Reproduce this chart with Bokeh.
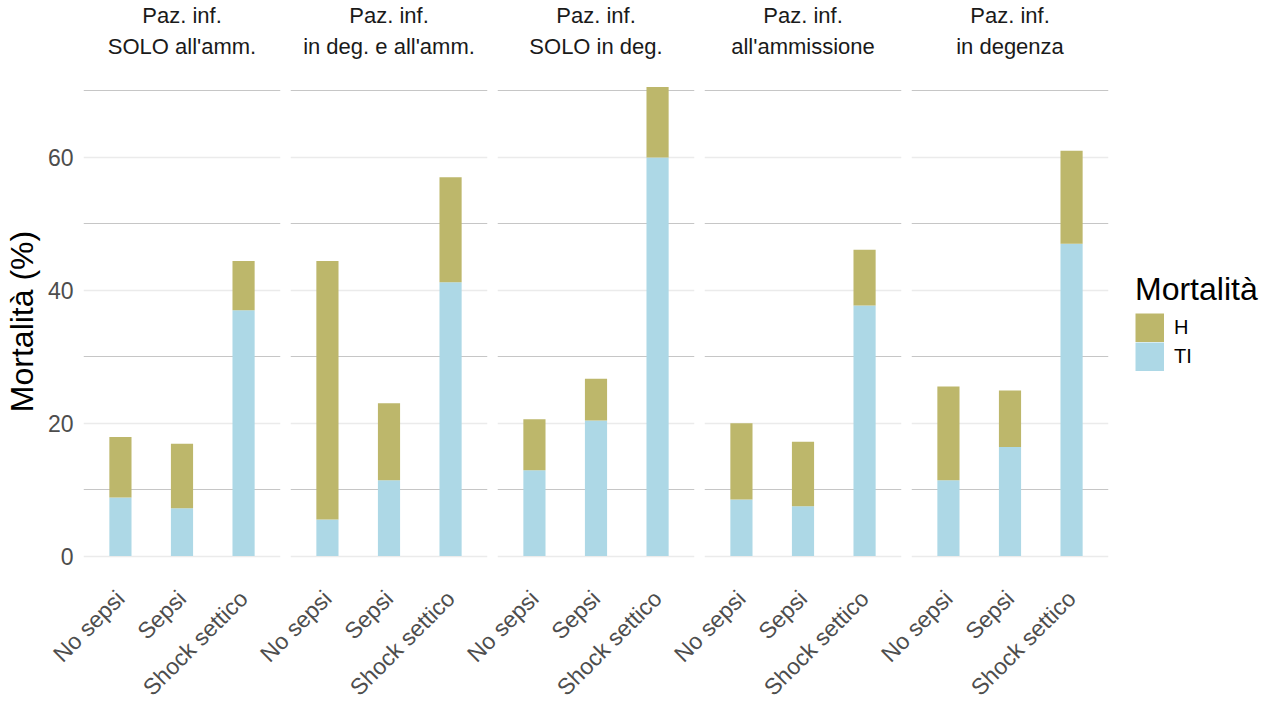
import math
from bokeh.plotting import figure
from bokeh.models import (FactorRange, Range1d, FixedTicker, Title, Legend, LegendItem,
                          ColumnDataSource)
from bokeh.layouts import row
from bokeh.embed import file_html
from bokeh.resources import INLINE

# ---- data ----
categories = ["No sepsi", "Sepsi", "Shock settico"]
facet_line1 = ["Paz. inf.", "Paz. inf.", "Paz. inf.", "Paz. inf.", "Paz. inf."]
facet_line2 = ["SOLO all'amm.", "in deg. e all'amm.", "SOLO in deg.",
               "all'ammissione", "in degenza"]
series_names = ["H", "TI"]
y_ticks = [0, 20, 40, 60]
y_minor_ticks = [10, 30, 50, 70]

ti_solo_amm = [8.8, 7.2, 37.0]
h_solo_amm = [9.1, 9.7, 7.4]
ti_deg_amm = [5.5, 11.4, 41.2]
h_deg_amm = [38.9, 11.6, 15.8]
ti_solo_deg = [12.9, 20.4, 60.0]
h_solo_deg = [7.7, 6.3, 10.6]
ti_ammissione = [8.5, 7.5, 37.7]
h_ammissione = [11.5, 9.7, 8.4]
ti_degenza = [11.4, 16.4, 47.0]
h_degenza = [14.1, 8.5, 14.0]

ti_series = [ti_solo_amm, ti_deg_amm, ti_solo_deg, ti_ammissione, ti_degenza]
h_series = [h_solo_amm, h_deg_amm, h_solo_deg, h_ammissione, h_degenza]

COL_H = "#BDB76B"
COL_TI = "#ADD8E6"
FONT = "Liberation Sans"
OVERLAP = 40  # extra left room for rotated labels, overlapped onto previous panel
KEY = 29      # legend key size in px

ymax = max(t + h for ts, hs in zip(ti_series, h_series) for t, h in zip(ts, hs))
pad = ymax * 0.05

figs = []
n = len(facet_line1)
for i in range(n):
    first = i == 0
    last = i == n - 1
    ti, hh = ti_series[i], h_series[i]
    p = figure(x_range=FactorRange(factors=categories, range_padding=0.1,
                                   range_padding_units="absolute"),
               y_range=Range1d(-pad, ymax + pad),
               frame_width=197, frame_height=516,
               min_border_left=75 if first else 5 + OVERLAP, min_border_right=5,
               min_border_top=58, min_border_bottom=10,
               toolbar_location=None, output_backend="svg",
               outline_line_color=None, background_fill_color=None,
               border_fill_color=None)
    if not first:
        p.margin = (0, 0, 0, -OVERLAP)
    p.title.visible = False
    t2 = Title(text=facet_line2[i], align="center", text_font=FONT, text_font_size="22px",
               text_font_style="normal", text_color="#1A1A1A", standoff=9)
    t1 = Title(text=facet_line1[i], align="center", text_font=FONT, text_font_size="22px",
               text_font_style="normal", text_color="#1A1A1A", standoff=0)
    p.add_layout(t2, "above")
    p.add_layout(t1, "above")

    src = ColumnDataSource(dict(cat=categories, TI=ti, H=hh))
    p.vbar_stack(["TI", "H"], x="cat", width=0.36, source=src,
                 color=[COL_TI, COL_H], line_color=None)

    ticker = FixedTicker(ticks=y_ticks, minor_ticks=y_minor_ticks)
    p.yaxis.ticker = ticker
    p.ygrid.ticker = ticker
    p.ygrid.grid_line_color = "#EBEBEB"
    p.ygrid.grid_line_width = 1.3
    p.ygrid.minor_grid_line_color = "#C6C6C6"
    p.ygrid.minor_grid_line_width = 1
    p.xgrid.grid_line_color = None

    for ax in p.axis:
        ax.axis_line_color = None
        ax.major_tick_line_color = None
        ax.minor_tick_line_color = None
        ax.major_tick_out = 0
        ax.major_tick_in = 0
        ax.minor_tick_out = 0
        ax.minor_tick_in = 0
        ax.major_label_text_font = FONT
        ax.major_label_text_font_size = "23px"
        ax.major_label_text_color = "#4D4D4D"
    p.xaxis.major_label_orientation = math.pi / 4
    p.xaxis.major_label_standoff = 15
    p.yaxis.major_label_standoff = 10

    if first:
        p.yaxis.axis_label = "Mortalità (%)"
        p.yaxis.axis_label_text_font = FONT
        p.yaxis.axis_label_text_font_size = "32px"
        p.yaxis.axis_label_text_font_style = "normal"
        p.yaxis.axis_label_text_color = "black"
        p.yaxis.axis_label_standoff = 5
    else:
        p.yaxis.visible = False

    if last:
        # legend keys: full-size square swatches drawn as thick butt-capped line keys
        # (their line data are NaN, so nothing is drawn inside the panel)
        key_src = ColumnDataSource(dict(cat=categories, y=[float("nan")] * len(categories)))
        key_h = p.line(x="cat", y="y", source=key_src, line_color=COL_H,
                       line_width=KEY, line_cap="butt")
        key_ti = p.line(x="cat", y="y", source=key_src, line_color=COL_TI,
                        line_width=KEY, line_cap="butt")
        leg = Legend(items=[LegendItem(label=series_names[0], renderers=[key_h]),
                            LegendItem(label=series_names[1], renderers=[key_ti])],
                     title="Mortalità", location="center_left",
                     title_text_font=FONT, title_text_font_size="32px",
                     title_text_font_style="normal", title_text_color="black",
                     label_text_font=FONT, label_text_font_size="20px",
                     label_text_color="black",
                     glyph_width=KEY, glyph_height=KEY, label_height=KEY,
                     spacing=0, padding=0, margin=27, label_standoff=10,
                     title_standoff=5, border_line_color=None,
                     background_fill_alpha=0)
        p.add_layout(leg, "right")
        p.min_border_right = 8
    figs.append(p)

layout = row(*figs)
open("out.html", "w").write(file_html(layout, INLINE))
